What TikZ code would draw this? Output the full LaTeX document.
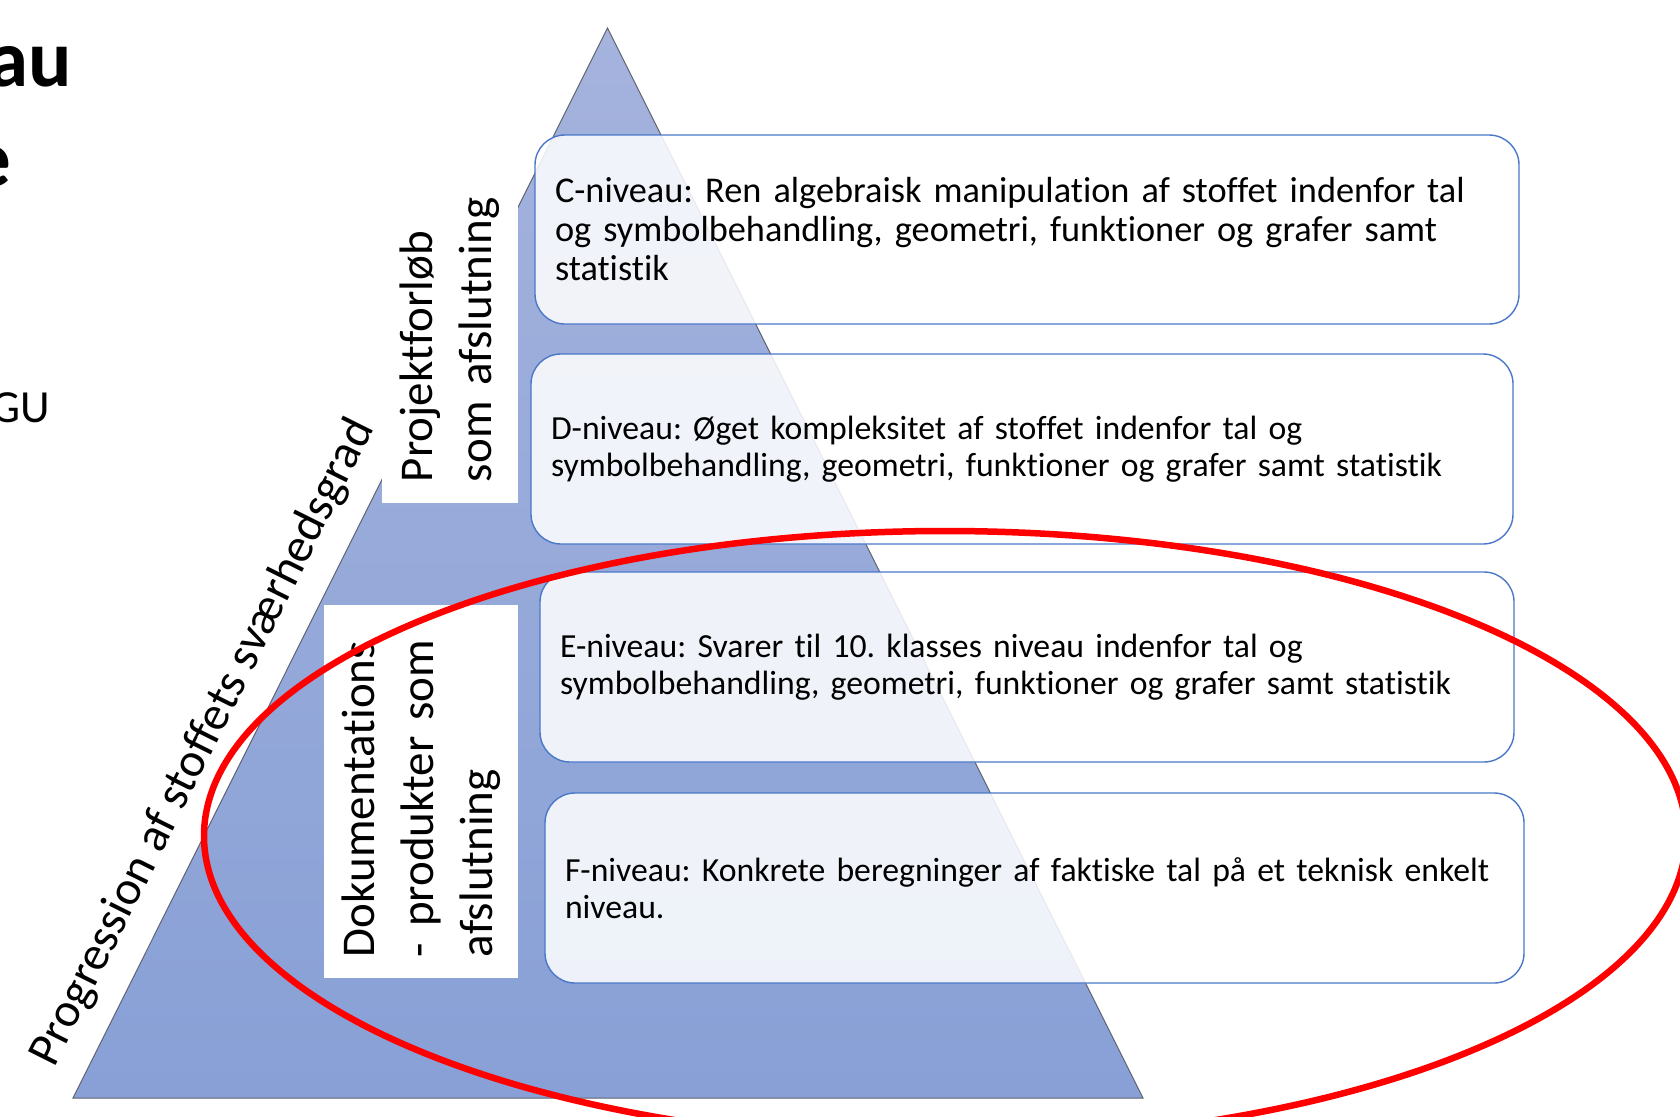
\documentclass[tikz,border=0pt]{standalone}
\usepackage{fontspec}
\setmainfont{Carlito}[RawFeature=-liga]
\definecolor{triTop}{HTML}{A5B3DD}
\definecolor{triBot}{HTML}{88A0D6}
\definecolor{triEdge}{HTML}{5F6472}
\definecolor{boxblue}{HTML}{4A78C8}
\begin{document}
\frenchspacing
\begin{tikzpicture}[x=1pt,y=-1pt,
  lvl/.style={draw=boxblue, line width=1.4pt, fill=white, fill opacity=0.86, text opacity=1,
    rounded corners=30pt, inner xsep=20pt, inner ysep=0pt, align=left,
    font=\fontsize{33.7}{37}\selectfont},
  vlabel/.style={fill=white, rotate=90, inner xsep=21pt, inner ysep=0pt, align=left,
    font=\fontsize{47}{59}\selectfont},
]
\useasboundingbox (0,0) rectangle (1680,1116);
\clip (0,0) rectangle (1680,1116);
% pyramid
\path[draw=triEdge, line width=1pt, top color=triTop, bottom color=triBot]
  (607.5,28) -- (1143,1098) -- (73,1098) -- cycle;
% white label panels with vertical text
\node[vlabel, minimum width=333pt, minimum height=136pt, text width=291pt] (proj)
  at (450,336.5) {Projektforløb\\som afslutning};
\node[vlabel, minimum width=373pt, minimum height=194pt, text width=331pt] (dok)
  at (421,791.5) {Dokumentations\\- produkter som\\afslutning};
% level boxes
\node[lvl, minimum height=189pt, text width=944pt, font=\fontsize{36.3}{39}\selectfont] (c) at (1027,229.5)
  {C-niveau: Ren algebraisk manipulation af stoffet indenfor tal\\og symbolbehandling, geometri, funktioner og grafer samt\\statistik};
\node[lvl, minimum height=190pt, text width=942pt] (d) at (1022,449)
  {D-niveau: Øget kompleksitet af stoffet indenfor tal og\\symbolbehandling, geometri, funktioner og grafer samt statistik};
\node[lvl, minimum height=190pt, text width=934pt] (e) at (1027,667)
  {E-niveau: Svarer til 10. klasses niveau indenfor tal og\\symbolbehandling, geometri, funktioner og grafer samt statistik};
\node[lvl, minimum height=190pt, text width=939pt] (f) at (1034.5,888)
  {F-niveau: Konkrete beregninger af faktiske tal på et teknisk enkelt\\niveau.};
% slanted axis label
\node[rotate=63.45, anchor=south, inner sep=0pt, font=\fontsize{48}{58}\selectfont] (prog)
  at (222,752) {Progression af stoffets sværhedsgrad};
% red ellipse
\draw[red, line width=6.5pt] (945,836) ellipse [x radius=741, y radius=305];
% cut-off slide text at the left edge
\node[anchor=base east, inner sep=0pt, font=\bfseries\fontsize{81}{90}\selectfont] (t1) at (72,86) {au};
\node[anchor=base east, inner sep=0pt, font=\bfseries\fontsize{81}{90}\selectfont] (t2) at (11,186) {e};
\node[anchor=base east, inner sep=0pt, font=\fontsize{46}{55}\selectfont] (t3) at (50,422) {GU};
\end{tikzpicture}
\end{document}
